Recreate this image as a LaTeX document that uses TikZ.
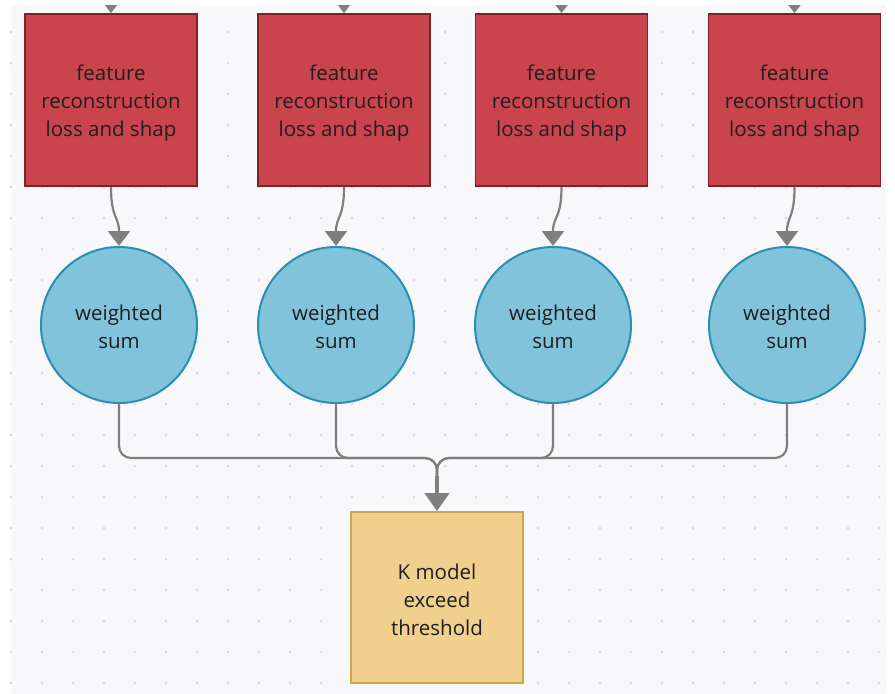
\documentclass[tikz,border=0pt]{standalone}
\usepackage{fontspec}
\setmainfont{Open Sans}
\usetikzlibrary{arrows.meta,calc}
\definecolor{bgc}{HTML}{F8F8FB}
\definecolor{dotc}{HTML}{DADADF}
\definecolor{redf}{HTML}{C9444D}
\definecolor{redd}{HTML}{7B2328}
\definecolor{bluef}{HTML}{82C3DC}
\definecolor{blued}{HTML}{2B8FB3}
\definecolor{yelf}{HTML}{F0D08C}
\definecolor{yeld}{HTML}{CBA84A}
\definecolor{conc}{HTML}{7F7F7F}
\definecolor{txt}{HTML}{1E1E1E}
\tikzset{
  lbl/.style={align=center, text=txt, font=\fontsize{20.5}{28}\selectfont},
  redbox/.style={draw=redd, fill=redf, line width=1.8pt, minimum width=172pt, minimum height=172pt, inner sep=0pt},
  wsum/.style={circle, draw=blued, fill=bluef, line width=2pt, minimum size=156pt, inner sep=0pt},
  yelbox/.style={draw=yeld, fill=yelf, line width=1.8pt, minimum width=172pt, minimum height=171pt, inner sep=0pt},
  conn/.style={draw=conc, line width=2.2pt, -{Triangle[width=22pt,length=15pt]}},
  topconn/.style={draw=conc, line width=2.2pt, -{Triangle[width=24pt,length=16pt]}},
  branch/.style={draw=conc, line width=2.2pt, rounded corners=12pt},
  thickconn/.style={draw=conc, line width=4pt, -{Triangle[width=24pt,length=18pt]}},
}
\begin{document}
\begin{tikzpicture}[x=1pt,y=-1pt]
\useasboundingbox (0,0) rectangle (895,694);
\fill[white] (0,0) rectangle (895,694);
\fill[bgc] (11,5) rectangle (886,694);
\foreach \i in {0,...,28} {
  \foreach \j in {0,...,21} {
    \fill[dotc] (11+31*\i, 32+31*\j) circle (1.5pt);
  }
}
\begin{scope}
\clip (11,5) rectangle (886,694);
\node[redbox] (r1) at (111,100) {};
\node[redbox] (r2) at (344,100) {};
\node[redbox] (r3) at (561.5,100) {};
\node[redbox] (r4) at (794.5,100) {};
\foreach \k in {1,2,3,4} {
  \node[lbl] (rl\k) at ($(r\k.center)+(0,3)$) {feature\\reconstruction\\loss and shap};
}
\coordinate (t1) at (111,-20);
\coordinate (t2) at (344,-20);
\coordinate (t3) at (561.5,-20);
\coordinate (t4) at (794.5,-20);
\foreach \k in {1,2,3,4} { \draw[topconn] (t\k) -- (r\k.north); }

\node[wsum] (c1) at (119,325) {};
\node[wsum] (c2) at (336,325) {};
\node[wsum] (c3) at (553,325) {};
\node[wsum] (c4) at (787,325) {};
\foreach \k in {1,2,3,4} {
  \node[lbl] (cl\k) at ($(c\k.center)+(0,2)$) {weighted\\sum};
  \draw[conn] (r\k.south) .. controls ($(r\k.south)+(0,32)$) and ($(c\k.north)+(0,-30)$) .. (c\k.north);
}

\node[yelbox] (y) at (437,597.5) {};
\node[lbl] (yl) at ($(y.center)+(0,2)$) {K model\\exceed\\threshold};
\coordinate (j) at (437,458);
\coordinate (j2) at (437,476);
\foreach \k in {1,2,3,4} { \draw[branch] (c\k.south) |- (j) -- (j2); }
\draw[thickconn] (j2) -- (y.north);
\end{scope}
\end{tikzpicture}
\end{document}
